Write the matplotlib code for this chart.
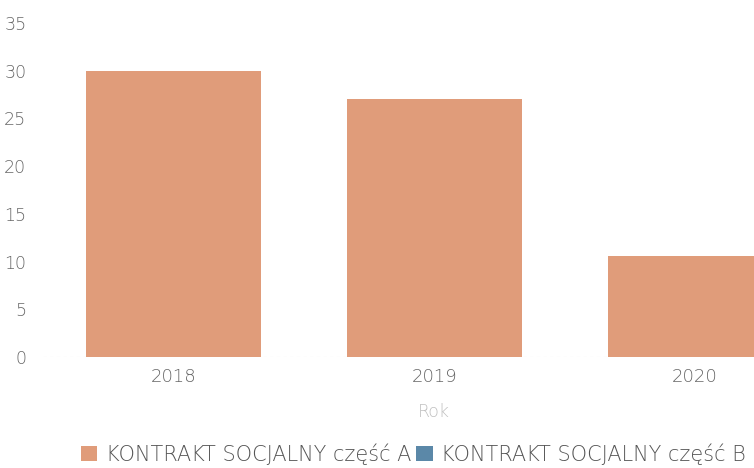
import matplotlib.pyplot as plt
from matplotlib.patches import Patch

years = ['2018', '2019', '2020']
part_a = [30, 27, 10.6]
series_names = ['KONTRAKT SOCJALNY część A', 'KONTRAKT SOCJALNY część B']
colors = ['#E09C7A', '#5B88A8']

plt.rcParams['font.family'] = ['DejaVu Sans']
plt.rcParams['font.weight'] = 'light'

fig = plt.figure(figsize=(7.54, 4.68), dpi=100)
ax = fig.add_axes([0.057, 0.237, 0.943, 0.714])

x = list(range(len(years)))
ax.bar(x, part_a, width=0.67, color=colors[0], edgecolor='none')
ax.axhline(0, color='#dddddd', lw=0.8, ls=(0, (3, 3)), zorder=0)

ax.set_ylim(0, 35)
ax.set_yticks(range(0, 36, 5))
ax.set_xlim(-0.5, 2.226)
ax.set_xticks(x)
ax.set_xticklabels(years)
ax.tick_params(length=0, labelsize=12.5, colors='#666666')
ax.tick_params(axis='x', labelsize=13, pad=8)
ax.tick_params(axis='y', pad=12)
for s in ax.spines.values():
    s.set_visible(False)

fig.text(434 / 754, 1 - 412 / 468, 'Rok', ha='center', va='center',
         fontsize=12.5, color='#c0c0c0')

handles = [Patch(facecolor=c, edgecolor='none') for c in colors]
fig.legend(handles, series_names, loc='center', ncol=2,
           bbox_to_anchor=(0.548, 1 - 454 / 468), frameon=False,
           fontsize=15, labelcolor='#555555', handlelength=0.8,
           handleheight=0.8, handletextpad=0.4, columnspacing=0.25)

fig.savefig('out.png', dpi=100)
